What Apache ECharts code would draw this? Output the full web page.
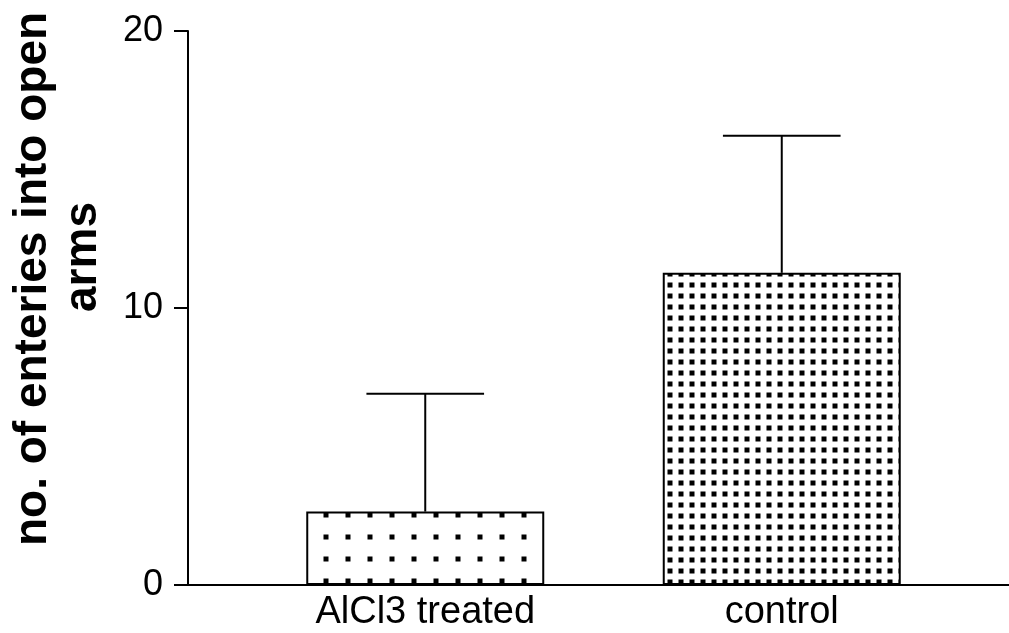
<!DOCTYPE html>
<html>
<head>
<meta charset="utf-8">
<script src="https://cdn.jsdelivr.net/npm/echarts@6/dist/echarts.min.js"></script>
<style>
  html, body { margin: 0; padding: 0; background: #fff; }
  #chart { width: 1009px; height: 633px; }
</style>
</head>
<body>
<div id="chart"></div>
<script>
const categories = ['AlCl3 treated', 'control'];
const means = [2.65, 11.27];
const errors = [4.25, 4.95];
const yTicks = [0, 10, 20];
const yTitle = 'no. of enteries into open';
const yTitle2 = 'arms';

const FONT = '"Liberation Sans", Arial, sans-serif';

function makePattern(step, cx, cy, size) {
  const c = document.createElement('canvas');
  c.width = step; c.height = step;
  const ctx = c.getContext('2d');
  ctx.fillStyle = '#ffffff';
  ctx.fillRect(0, 0, step, step);
  ctx.fillStyle = '#000000';
  const x0 = cx - size / 2, y0 = cy - size / 2;
  for (const dx of [-step, 0, step]) {
    for (const dy of [-step, 0, step]) {
      ctx.fillRect(x0 + dx, y0 + dy, size, size);
    }
  }
  return { image: c, repeat: 'repeat' };
}
const patterns = [
  makePattern(22, 326 % 22, 581 % 22, 5),
  makePattern(11, 670 % 11, 274 % 11, 5)
];

const chart = echarts.init(document.getElementById('chart'), null, { renderer: 'canvas' });
const option = {
  backgroundColor: '#ffffff',
  animation: false,
  grid: [
    { left: 188, width: 833, top: 31, bottom: 48, containLabel: false, outerBoundsMode: 'none' },
    { left: 247, width: 713, top: 31, bottom: 48, containLabel: false, outerBoundsMode: 'none' }
  ],
  xAxis: [
    {
      gridIndex: 0, type: 'category', data: categories,
      axisLine: { show: true, lineStyle: { color: '#000', width: 2 } },
      axisTick: { show: false }, axisLabel: { show: false }, splitLine: { show: false }
    },
    {
      gridIndex: 1, type: 'category', data: categories,
      axisLine: { show: false }, axisTick: { show: false },
      axisLabel: { show: true, color: '#000', fontSize: 38, fontFamily: FONT, margin: 9 }
    }
  ],
  yAxis: [
    {
      gridIndex: 0, type: 'value', min: yTicks[0], max: yTicks[yTicks.length - 1], interval: yTicks[1] - yTicks[0],
      axisLine: { show: true, lineStyle: { color: '#000', width: 2 } },
      axisTick: { show: true, length: 14, lineStyle: { color: '#000', width: 2 } },
      axisLabel: { color: '#000', fontSize: 36, fontFamily: FONT, margin: 25 },
      splitLine: { show: false },
      name: '{a|' + yTitle + '}\n{b|' + yTitle2 + '}',
      nameLocation: 'middle', nameRotate: 90, nameGap: 80,
      nameTextStyle: {
        padding: [0, 0, 0, 58],
        rich: {
          a: { fontSize: 46, fontWeight: 'bold', fontFamily: FONT, color: '#000', lineHeight: 50 },
          b: { fontSize: 46, fontWeight: 'bold', fontFamily: FONT, color: '#000', lineHeight: 50, padding: [0, 0, 0, 44] }
        }
      }
    },
    {
      gridIndex: 1, type: 'value', min: yTicks[0], max: yTicks[yTicks.length - 1], show: false,
      splitLine: { show: false }
    }
  ],
  series: [
    {
      type: 'bar', xAxisIndex: 1, yAxisIndex: 1,
      barWidth: 238,
      data: means.map((v, i) => ({ value: v, itemStyle: { color: patterns[i] } })),
      itemStyle: { borderColor: '#000', borderWidth: 2 },
      z: 2
    },
    {
      type: 'custom', xAxisIndex: 1, yAxisIndex: 1,
      data: means.map((v, i) => [i, v, errors[i]]),
      z: 3,
      renderItem: function (params, api) {
        const i = api.value(0), m = api.value(1), e = api.value(2);
        const p0 = api.coord([i, m]);
        const p1 = api.coord([i, m + e]);
        const band = api.size([1, 0])[0];
        const hw = band * 0.165;
        const style = { stroke: '#000', lineWidth: 2, fill: null };
        return {
          type: 'group',
          children: [
            { type: 'line', shape: { x1: p0[0], y1: p0[1], x2: p1[0], y2: p1[1] }, style: style },
            { type: 'line', shape: { x1: p1[0] - hw, y1: p1[1], x2: p1[0] + hw, y2: p1[1] }, style: style }
          ]
        };
      }
    }
  ]
};
chart.setOption(option);
</script>
</body>
</html>
